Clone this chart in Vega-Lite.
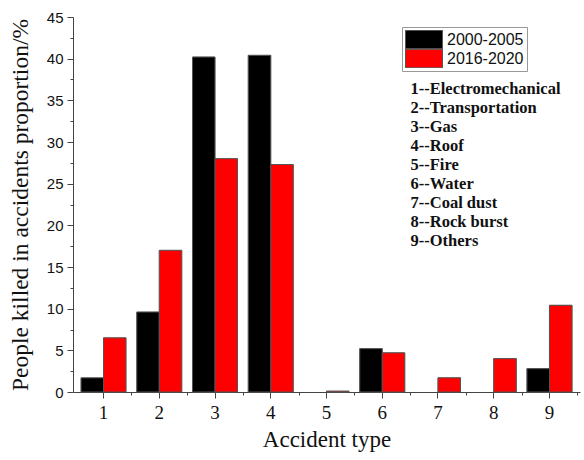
{
  "$schema": "https://vega.github.io/schema/vega-lite/v6.json",
  "width": 507,
  "height": 375,
  "autosize": {"type": "none"},
  "padding": {"left": 73, "top": 17, "right": 4, "bottom": 68},
  "background": "white",
  "config": {"view": {"stroke": null}},
  "data": {
    "values": [
      {"type": "1", "label": "1--Electromechanical", "period": "2000-2005", "value": 1.7},
      {"type": "1", "label": "1--Electromechanical", "period": "2016-2020", "value": 6.5},
      {"type": "2", "label": "2--Transportation", "period": "2000-2005", "value": 9.6},
      {"type": "2", "label": "2--Transportation", "period": "2016-2020", "value": 17.0},
      {"type": "3", "label": "3--Gas", "period": "2000-2005", "value": 40.2},
      {"type": "3", "label": "3--Gas", "period": "2016-2020", "value": 28.0},
      {"type": "4", "label": "4--Roof", "period": "2000-2005", "value": 40.4},
      {"type": "4", "label": "4--Roof", "period": "2016-2020", "value": 27.3},
      {"type": "5", "label": "5--Fire", "period": "2016-2020", "value": 0.1},
      {"type": "6", "label": "6--Water", "period": "2000-2005", "value": 5.2},
      {"type": "6", "label": "6--Water", "period": "2016-2020", "value": 4.7},
      {"type": "7", "label": "7--Coal dust", "period": "2016-2020", "value": 1.7},
      {"type": "8", "label": "8--Rock burst", "period": "2016-2020", "value": 4.0},
      {"type": "9", "label": "9--Others", "period": "2000-2005", "value": 2.8},
      {"type": "9", "label": "9--Others", "period": "2016-2020", "value": 10.4}
    ]
  },
  "layer": [
    {
      "mark": {"type": "bar", "stroke": "#555555", "strokeWidth": 1},
      "encoding": {
        "x": {
          "field": "type", "type": "ordinal",
          "scale": {"paddingInner": 0.193, "paddingOuter": 0.144},
          "axis": {
            "orient": "bottom",
            "title": "Accident type",
            "titleFont": "Liberation Serif", "titleFontSize": 23, "titleFontWeight": "normal", "titleColor": "#111",
            "titlePadding": 6,
            "labelFont": "Liberation Serif", "labelFontSize": 19, "labelColor": "#111", "labelAngle": 0, "labelPadding": 5,
            "tickSize": 6, "tickColor": "#444", "domainColor": "#444", "grid": false
          }
        },
        "xOffset": {"field": "period", "type": "nominal", "scale": {"domain": ["2000-2005", "2016-2020"], "paddingInner": 0, "paddingOuter": 0}},
        "y": {
          "field": "value", "type": "quantitative",
          "scale": {"domain": [0, 45], "nice": false, "zero": true},
          "axis": {
            "orient": "left",
            "title": "People killed in accidents proportion/%",
            "titleFont": "Liberation Serif", "titleFontSize": 23.5, "titleFontWeight": "normal", "titleColor": "#111",
            "titlePadding": 14,
            "values": [0, 5, 10, 15, 20, 25, 30, 35, 40, 45],
            "labelFont": "Liberation Sans", "labelFontSize": 15, "labelColor": "#111", "labelPadding": 4,
            "tickSize": 6, "tickColor": "#444", "domainColor": "#444", "grid": false
          }
        },
        "color": {
          "field": "period", "type": "nominal",
          "scale": {"domain": ["2000-2005", "2016-2020"], "range": ["#000000", "#ff0000"]},
          "legend": {
            "title": null, "orient": "none", "legendX": 329, "legendY": 10,
            "symbolType": "M-1,-0.5H1V0.5H-1Z", "symbolSize": 1369, "clipHeight": 19,
            "symbolStrokeColor": "#555", "symbolStrokeWidth": 1,
            "labelFont": "Liberation Sans", "labelFontSize": 16, "labelColor": "#111", "labelOffset": 4,
            "rowPadding": 0, "padding": 3, "strokeColor": "#999", "fillColor": "white"
          }
        },
        "opacity": {
          "field": "label", "type": "nominal",
          "scale": {"type": "ordinal", "range": [1, 1, 1, 1, 1, 1, 1, 1, 1]},
          "legend": {
            "title": null, "orient": "none", "legendX": 321, "legendY": 62,
            "symbolSize": 0, "symbolOpacity": 0, "symbolStrokeWidth": 0, "labelOffset": 0,
            "labelFont": "Liberation Serif", "labelFontSize": 16.5, "labelFontWeight": "bold", "labelColor": "#111",
            "clipHeight": 19, "rowPadding": 0, "labelLimit": 180
          }
        }
      }
    },
    {
      "mark": {"type": "bar", "stroke": "#555555", "strokeWidth": 1},
      "encoding": {
        "x": {
          "field": "type", "type": "ordinal",
          "axis": {
            "orient": "bottom", "title": null, "labels": false, "domain": false, "grid": false,
            "tickSize": 3, "tickColor": "#444", "tickOffset": 27.9
          }
        },
        "xOffset": {"field": "period", "type": "nominal"},
        "y": {
          "field": "value", "type": "quantitative",
          "axis": {
            "orient": "left", "title": null, "labels": false, "domain": false, "grid": false,
            "values": [2.5, 7.5, 12.5, 17.5, 22.5, 27.5, 32.5, 37.5, 42.5],
            "tickSize": 3, "tickColor": "#444"
          }
        },
        "color": {"field": "period", "type": "nominal"},
        "opacity": {"field": "label", "type": "nominal"}
      }
    }
  ],
  "resolve": {"axis": {"x": "independent", "y": "independent"}}
}
